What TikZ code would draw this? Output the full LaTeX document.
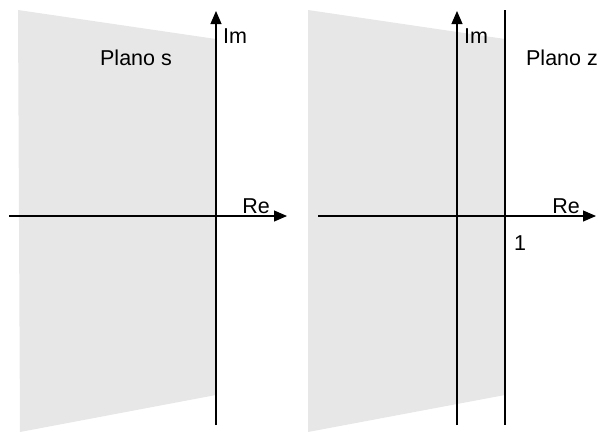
\documentclass[tikz,border=0pt]{standalone}
\usepackage{fontspec}
\setmainfont{Liberation Sans}
\usepackage{tikz}
\usetikzlibrary{arrows.meta, positioning}
\usepackage{xcolor}
\definecolor{planegray}{RGB}{231,231,231}

\begin{document}
\begin{tikzpicture}[x=1pt, y=-1pt, line width=1.1pt,
    axis/.style={-{Triangle[length=13pt,width=11pt]}},
    lbl/.style={font=\fontsize{21.5}{24}\selectfont, inner sep=0pt}]
  \useasboundingbox (0,0) rectangle (598,432);
  % plano s
  \fill[planegray] (18,10) -- (216,39) -- (216,395) -- (20,432) -- cycle;
  \draw[axis] (9,216) -- (287,216);
  \draw[axis] (216,425) -- (216,11);
  \node[lbl] (ims) at (235,36) {Im};
  \node[lbl] (res) at (256,206) {Re};
  \node[lbl] (plans) at (136,58) {Plano s};
  % plano z
  \fill[planegray] (308,10) -- (505,39) -- (505,395) -- (308,432) -- cycle;
  \draw[axis] (318,216) -- (596,216);
  \draw[axis] (457,425) -- (457,11);
  \draw (505,10) -- (505,425);
  \node[lbl] (imz) at (476,36) {Im};
  \node[lbl] (rez) at (566,206) {Re};
  \node[lbl] (one) at (520,243) {1};
  \node[lbl] (planz) at (562,58) {Plano z};
\end{tikzpicture}
\end{document}
